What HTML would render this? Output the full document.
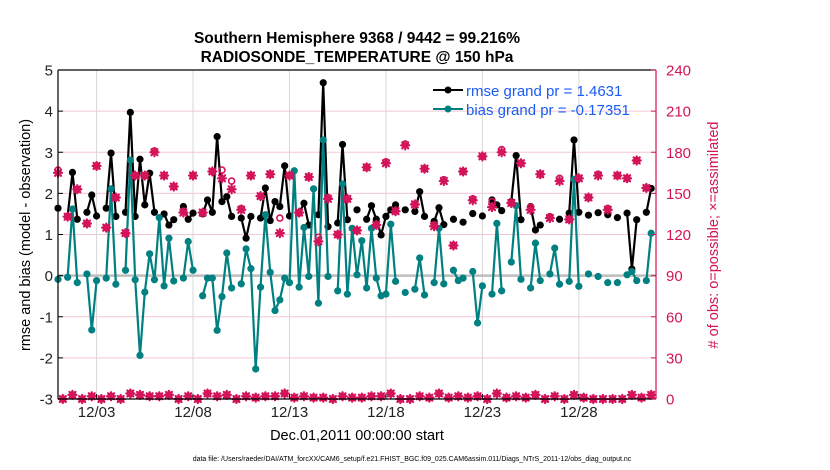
<!DOCTYPE html>
<html><head><meta charset="utf-8"><style>
body{margin:0;background:#fff;}
svg{display:block;font-family:"Liberation Sans",Arial,sans-serif;}
</style></head><body>
<svg id="chart" width="830" height="470" viewBox="0 0 830 470">
<text x="357" y="43" text-anchor="middle" font-size="15.5" font-weight="bold">Southern Hemisphere 9368 / 9442 = 99.216%</text>
<text x="357" y="62" text-anchor="middle" font-size="15.5" font-weight="bold">RADIOSONDE_TEMPERATURE @ 150 hPa</text>
<g id="grid"></g>
<g id="series"></g>
<g id="axes"></g>
<text transform="translate(30,235) rotate(-90)" text-anchor="middle" font-size="14.5">rmse and bias (model - observation)</text>
<text transform="translate(718,235) rotate(-90)" text-anchor="middle" font-size="14.5" fill="#d4145a"># of obs: o=possible; ×=assimilated</text>
<text x="357" y="440" text-anchor="middle" font-size="14.5">Dec.01,2011 00:00:00 start</text>
<text x="412" y="461" text-anchor="middle" font-size="7">data file: /Users/raeder/DAI/ATM_forcXX/CAM6_setup/f.e21.FHIST_BGC.f09_025.CAM6assim.011/Diags_NTrS_2011-12/obs_diag_output.nc</text>
<g>
<g><line x1="433" y1="90" x2="463" y2="90" stroke="#000" stroke-width="2"/><circle cx="448" cy="90" r="3.5" fill="#000"/><text x="466" y="96" font-size="15" fill="#1a5cf5">rmse grand pr = 1.4631</text></g>
<g><line x1="433" y1="109" x2="463" y2="109" stroke="#008080" stroke-width="2"/><circle cx="448" cy="109" r="3.5" fill="#008080"/><text x="466" y="115" font-size="15" fill="#1a5cf5">bias grand pr = -0.17351</text></g>
</g>
</svg>
<script>
const rmseTimes=[0,.5,.75,1,1.5,1.75,2,2.5,2.75,3,3.5,3.75,4,4.25,4.5,4.75,5,5.5,5.75,6,6.5,6.75,7,7.5,7.75,8,8.25,8.5,8.75,9,9.5,9.75,10,10.5,10.75,11,11.25,11.5,11.75,12,12.5,12.75,13,13.5,13.75,14,14.5,14.75,15,15.5,16,16.25,16.5,16.75,17,17.25,17.5,18,18.5,18.75,19,19.5,19.75,20,20.5,21,21.5,22,22.5,22.75,23,23.5,23.75,24,24.5,24.75,25,25.5,26,26.5,26.75,27,27.5,28,28.5,29,29.5,29.75,30,30.5,30.75];
const rmseValues=[1.64,1.44,2.51,1.37,1.54,1.96,1.45,1.64,2.98,1.44,1.54,3.97,1.44,2.83,1.72,2.49,1.54,1.50,1.23,1.36,1.68,1.37,1.52,1.50,1.84,1.54,3.38,1.8,1.92,1.44,1.40,0.91,1.44,1.40,2.13,1.34,1.80,1.68,2.67,1.45,1.52,1.76,1.23,1.48,4.69,1.19,1.28,3.19,1.36,1.60,1.37,1.70,1.37,0.99,1.44,1.60,1.72,1.60,1.56,2.04,1.44,1.32,1.65,1.24,1.37,1.30,1.51,1.45,1.84,1.72,1.58,1.80,2.92,1.36,1.68,1.11,1.23,1.42,1.37,1.52,3.30,1.54,1.47,1.53,1.48,1.41,1.52,0.16,1.36,1.54,2.12];
const biasTimes=[0,.5,.75,1,1.5,1.75,2,2.5,2.75,3,3.5,3.75,4,4.25,4.5,4.75,5,5.25,5.5,5.75,6,6.5,6.75,7,7.5,7.75,8,8.25,8.5,8.75,9,9.5,9.75,10,10.25,10.5,10.75,11,11.25,11.5,11.75,12,12.25,12.5,12.75,13,13.25,13.5,13.75,14,14.5,14.75,15,15.25,15.5,15.75,16,16.25,16.5,16.75,17,17.25,17.5,18,18.5,18.75,19,19.5,19.75,20,20.5,20.75,21,21.5,21.75,22,22.5,22.75,23,23.5,23.75,24,24.5,24.75,25,25.5,25.75,26,26.5,26.75,27,27.5,28,28.5,29,29.5,29.75,30,30.5,30.75];
const biasValues=[-0.09,-0.04,1.62,-0.17,0.04,-1.32,-0.12,-0.06,2.11,-0.21,0.13,2.81,-0.10,-1.94,-0.40,0.53,-0.10,1.41,-0.25,0.91,-0.13,-0.06,0.83,0.13,-0.49,-0.06,-0.06,-1.33,-0.51,0.55,-0.30,-0.20,0.65,0.17,-2.27,-0.28,1.48,0.08,-0.85,-0.59,-0.06,-0.17,2.55,-0.28,1.17,-0.02,2.11,-0.67,3.30,-0.02,-0.37,2.23,-0.45,1.15,0.02,0.85,-0.30,1.15,-0.06,-0.49,-0.45,1.25,-0.14,-0.41,-0.33,0.43,-0.47,-0.17,1.15,-0.20,0.13,-0.12,-0.06,0.10,-1.15,-0.25,-0.45,1.27,-0.37,0.33,1.70,-0.09,-0.30,0.79,-0.12,0.04,0.67,-0.21,-0.14,2.34,-0.26,0.04,-0.02,-0.17,-0.17,0.02,0.10,-0.12,-0.12,1.03];
const obsUpperAssim=[165,133,153,128,170,125,147,121,163,163,180,163,155,136,163,136,166,161,153,138,163,148,164,121,163,136,162,115,146,120,146,123,169,127,172,137,185,142,168,126,159,112,166,145,177,140,180,143,172,138,164,132,159,131,161,147,163,138,163,161,174,154];
const obsUpperPossible=[167,133,153,128,170,125,147,121,163,163,181,163,155,137,163,136,166,167,159,139,163,148,164,132,163,136,162,118,147,120,146,123,169,127,173,137,186,142,168,127,160,112,166,146,177,144,182,143,172,140,164,133,161,131,161,147,164,139,163,161,174,154];
const obsLowerAssim=[0,3,0,2,0,2,0,4,3,2,2,3,0,2,0,4,2,3,0,2,1,2,2,4,1,2,1,1,0,2,1,1,2,2,4,0,0,2,1,4,1,2,1,2,0,4,1,2,1,3,0,2,0,3,1,0,0,0,0,3,1,3];
const xTickDays=[2,7,12,17,22,27];
const xTickLabels=["12/03","12/08","12/13","12/18","12/23","12/28"];
const yLeftTicks=[-3,-2,-1,0,1,2,3,4,5];
const yRightTicks=[0,30,60,90,120,150,180,210,240];

const L=58,R=656,T=70,B=399,PINK="#d4145a",TEAL="#008080";
const xS=d=>L+d/31*(R-L);
const yL=v=>T+(5-v)/8*(B-T);
const yR=c=>T+(240-c)/240*(B-T);
const NS="http://www.w3.org/2000/svg";
function mk(tag,parent,attrs){const e=document.createElementNS(NS,tag);for(const k in attrs)e.setAttribute(k,attrs[k]);parent.appendChild(e);return e;}
const grid=document.getElementById('grid'),series=document.getElementById('series'),axes=document.getElementById('axes');

yRightTicks.forEach(c=>{if(c===0||c===240)return;const g=mk('line',grid,{x1:L,x2:R,y1:yR(c),y2:yR(c),stroke:'#f3c6d6','stroke-width':1});

});
xTickDays.forEach(d=>{const g=mk('line',grid,{x1:xS(d),x2:xS(d),y1:T,y2:B,stroke:'#d8d8d8','stroke-width':1});

});
const zl=mk('line',grid,{x1:L,x2:R,y1:yL(0),y2:yL(0),stroke:'#bdbdbd','stroke-width':2.5});



function drawLine(times,vals,color,name){
  const g=mk('g',series,{});
  
  
  let d='';
  for(let i=0;i<times.length;i++){
    const p=xS(times[i]).toFixed(1)+','+yL(vals[i]).toFixed(1);
    d+=(i>0&&Math.abs(times[i]-times[i-1]-0.25)<0.01)?'L'+p:'M'+p;
  }
  const pl=mk('path',g,{d:d,fill:'none',stroke:color,'stroke-width':2.2,'stroke-linejoin':'round'});
  
  
  for(let i=0;i<times.length;i++){
    const c=mk('circle',g,{cx:xS(times[i]),cy:yL(vals[i]),r:3.6,fill:color});
    
    
  }
}
drawLine(rmseTimes,rmseValues,'#000','rmse-series');
drawLine(biasTimes,biasValues,TEAL,'bias-series');

const og=mk('g',series,{});


function star(t,c){
  const x=xS(t),y=yR(c),g=mk('g',og,{stroke:PINK,'stroke-width':2.2,'stroke-linecap':'round'});
  
  
  mk('circle',g,{cx:x,cy:y,r:2.2,fill:PINK,stroke:'none'});
  mk('line',g,{x1:x-4,x2:x+4,y1:y,y2:y});mk('line',g,{x1:x,x2:x,y1:y-4,y2:y+4});
  mk('line',g,{x1:x-3,x2:x+3,y1:y-3,y2:y+3});mk('line',g,{x1:x-3,x2:x+3,y1:y+3,y2:y-3});
}
function ring(t,c){
  const e=mk('circle',og,{cx:xS(t),cy:yR(c),r:3,fill:'none',stroke:PINK,'stroke-width':1.6});
  
  
}
obsUpperPossible.forEach((c,i)=>ring(i*0.5,c));
obsUpperAssim.forEach((c,i)=>star(i*0.5,c));
obsLowerAssim.forEach((c,i)=>{ring(0.25+i*0.5,c);star(0.25+i*0.5,c);});

const box=[['top-axis-line',L,T,R,T,'#000'],['bottom-axis-line',L,B,R,B,'#000'],['left-axis-line',L,T,L,B,'#000'],['right-axis-line',R,T,R,B,PINK]];
box.forEach(b=>{const e=mk('line',axes,{x1:b[1],y1:b[2],x2:b[3],y2:b[4],stroke:b[5],'stroke-width':1.2});

});
yLeftTicks.forEach(v=>{const y=yL(v);mk('line',axes,{x1:L,x2:L+5,y1:y,y2:y,stroke:'#000'});
const t=mk('text',axes,{x:L-5,y:y+5.5,'text-anchor':'end','font-size':15,fill:'#222'});t.textContent=v;

});
yRightTicks.forEach(c=>{const y=yR(c);mk('line',axes,{x1:R-5,x2:R,y1:y,y2:y,stroke:PINK});
const t=mk('text',axes,{x:R+10,y:y+5.5,'font-size':15,fill:PINK});t.textContent=c;

});
xTickDays.forEach((d,i)=>{const x=xS(d);mk('line',axes,{x1:x,x2:x,y1:B-5,y2:B,stroke:'#000'});
const t=mk('text',axes,{x:x,y:B+18,'text-anchor':'middle','font-size':15,fill:'#222'});t.textContent=xTickLabels[i];

});
</script>
</body></html>
